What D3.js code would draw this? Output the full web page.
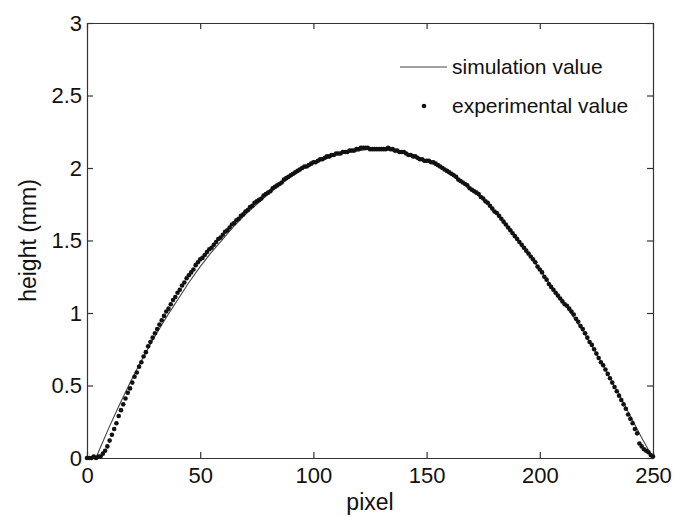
<!DOCTYPE html>
<html>
<head>
<meta charset="utf-8">
<script src="https://cdn.jsdelivr.net/npm/d3@7"></script>
<style>
  body { margin: 0; background: #fff; }
  svg { display: block; font-family: "Liberation Sans", Arial, sans-serif; }
  .axis path, .axis line { stroke: #333; stroke-width: 1.2; }
  .axis text { font-size: 22px; fill: #111; }
</style>
</head>
<body>
<svg id="chart" width="674" height="517"></svg>
<script>
// simulation curve (pixel -> height in mm)
const simPixel = [4, 5, 10, 15, 20, 25, 30, 35, 40, 45, 50, 55, 60, 65, 70, 75, 80, 85, 90, 95,
  100, 105, 110, 115, 120, 125, 130, 135, 140, 145, 150, 155, 160, 165, 170, 175, 180, 185, 190, 195,
  200, 205, 210, 215, 220, 225, 230, 235, 240, 245, 250];
const simHeight = [0.00, 0.04, 0.22, 0.39, 0.55, 0.70, 0.84, 0.97, 1.09, 1.21, 1.32, 1.42, 1.51, 1.60, 1.68, 1.75, 1.82, 1.88, 1.94, 1.99,
  2.03, 2.06, 2.09, 2.11, 2.12, 2.13, 2.13, 2.12, 2.10, 2.08, 2.05, 2.01, 1.96, 1.91, 1.85, 1.78, 1.70, 1.61, 1.51, 1.41,
  1.30, 1.19, 1.08, 0.97, 0.85, 0.72, 0.58, 0.44, 0.29, 0.14, 0.00];

// experimental points, one per pixel from 0 to 250
const expHeight = [
  0.00, 0.00, 0.00, 0.01, 0.00, 0.01, 0.01, 0.03, 0.05, 0.08,
  0.12, 0.16, 0.20, 0.24, 0.29, 0.33, 0.37, 0.41, 0.45, 0.48,
  0.52, 0.56, 0.59, 0.63, 0.66, 0.70, 0.73, 0.77, 0.80, 0.83,
  0.86, 0.89, 0.92, 0.95, 0.98, 1.01, 1.03, 1.06, 1.09, 1.11,
  1.14, 1.16, 1.19, 1.21, 1.24, 1.26, 1.28, 1.30, 1.33, 1.35,
  1.37, 1.38, 1.40, 1.42, 1.44, 1.45, 1.47, 1.49, 1.51, 1.52,
  1.54, 1.56, 1.57, 1.59, 1.61, 1.62, 1.64, 1.65, 1.67, 1.68,
  1.70, 1.71, 1.73, 1.74, 1.76, 1.77, 1.78, 1.79, 1.81, 1.82,
  1.83, 1.84, 1.86, 1.87, 1.88, 1.89, 1.90, 1.92, 1.93, 1.94,
  1.95, 1.96, 1.97, 1.98, 1.99, 2.00, 2.01, 2.01, 2.02, 2.03,
  2.04, 2.04, 2.05, 2.06, 2.06, 2.07, 2.08, 2.08, 2.09, 2.09,
  2.10, 2.10, 2.10, 2.11, 2.11, 2.11, 2.12, 2.12, 2.12, 2.13,
  2.13, 2.14, 2.14, 2.14, 2.14, 2.13, 2.13, 2.13, 2.13, 2.13,
  2.13, 2.13, 2.13, 2.14, 2.13, 2.13, 2.12, 2.12, 2.11, 2.11,
  2.11, 2.10, 2.09, 2.09, 2.08, 2.08, 2.07, 2.06, 2.06, 2.05,
  2.05, 2.05, 2.04, 2.04, 2.03, 2.02, 2.01, 2.00, 1.99, 1.98,
  1.97, 1.96, 1.95, 1.94, 1.92, 1.91, 1.90, 1.89, 1.88, 1.86,
  1.85, 1.84, 1.83, 1.82, 1.80, 1.79, 1.77, 1.76, 1.74, 1.72,
  1.70, 1.69, 1.67, 1.65, 1.63, 1.61, 1.59, 1.57, 1.55, 1.53,
  1.51, 1.49, 1.47, 1.45, 1.43, 1.41, 1.39, 1.37, 1.35, 1.32,
  1.30, 1.28, 1.25, 1.23, 1.20, 1.18, 1.16, 1.14, 1.12, 1.10,
  1.08, 1.06, 1.05, 1.03, 1.01, 0.99, 0.96, 0.94, 0.91, 0.89,
  0.86, 0.83, 0.80, 0.78, 0.75, 0.72, 0.69, 0.66, 0.64, 0.61,
  0.58, 0.55, 0.52, 0.49, 0.46, 0.43, 0.40, 0.37, 0.34, 0.30,
  0.27, 0.24, 0.20, 0.17, 0.10, 0.08, 0.06, 0.05, 0.04, 0.02,
  0.01
];

const xTicks = [0, 50, 100, 150, 200, 250];
const yTicks = [0, 0.5, 1, 1.5, 2, 2.5, 3];
const legendLabels = ['simulation value', 'experimental value'];

const svg = d3.select('#chart'),
  margin = { top: 23, right: 21, bottom: 59, left: 87 },
  width = 674 - margin.left - margin.right,
  height = 517 - margin.top - margin.bottom;

const x = d3.scaleLinear().domain([0, 250]).range([0, width]),
  y = d3.scaleLinear().domain([0, 3]).range([height, 0]);

const g = svg.append('g')
  .attr('transform', `translate(${margin.left},${margin.top})`);

// box axes, ticks pointing inward
g.append('g')
  .attr('class', 'axis')
  .attr('transform', `translate(0,${height})`)
  .call(d3.axisBottom(x).tickValues(xTicks).tickSizeInner(-6).tickSizeOuter(0).tickPadding(9).tickFormat(d3.format('')));

g.append('g')
  .attr('class', 'axis')
  .call(d3.axisLeft(y).tickValues(yTicks).tickSizeInner(-6).tickSizeOuter(0).tickPadding(5).tickFormat(d3.format('')));

g.append('g')
  .attr('class', 'axis')
  .call(d3.axisTop(x).tickValues(xTicks).tickSizeInner(-6).tickSizeOuter(0).tickFormat(''));

g.append('g')
  .attr('class', 'axis')
  .attr('transform', `translate(${width},0)`)
  .call(d3.axisRight(y).tickValues(yTicks).tickSizeInner(-6).tickSizeOuter(0).tickFormat(''));

// simulation line
const line = d3.line()
  .x((d, i) => x(simPixel[i]))
  .y((d) => y(d));

g.append('path')
  .datum(simHeight)
  .attr('fill', 'none')
  .attr('stroke', '#444')
  .attr('stroke-width', 1.1)
  .attr('d', line);

// experimental points
g.selectAll('.dot')
  .data(expHeight)
  .enter()
  .append('circle')
  .attr('class', 'dot')
  .attr('cx', (d, i) => x(i))
  .attr('cy', (d) => y(d))
  .attr('r', 2.3)
  .attr('fill', '#111');

// legend
const legendY = [67, 106];
const legend = svg.append('g');
legend.append('line')
  .attr('x1', 400).attr('x2', 447)
  .attr('y1', legendY[0]).attr('y2', legendY[0])
  .attr('stroke', '#444')
  .attr('stroke-width', 1.1);
legend.append('circle')
  .attr('cx', 424).attr('cy', legendY[1])
  .attr('r', 2.3)
  .attr('fill', '#111');
legend.selectAll('text')
  .data(legendLabels)
  .enter()
  .append('text')
  .attr('x', 452)
  .attr('y', (d, i) => legendY[i])
  .attr('dy', '0.35em')
  .style('font-size', '21px')
  .attr('fill', '#111')
  .text((d) => d);

// axis titles
svg.append('text')
  .attr('x', margin.left + width / 2)
  .attr('y', 510)
  .attr('text-anchor', 'middle')
  .style('font-size', '23px')
  .attr('fill', '#111')
  .text('pixel');

svg.append('text')
  .attr('transform', `translate(36,${margin.top + height / 2}) rotate(-90)`)
  .attr('text-anchor', 'middle')
  .style('font-size', '23px')
  .attr('fill', '#111')
  .text('height (mm)');
</script>
</body>
</html>
